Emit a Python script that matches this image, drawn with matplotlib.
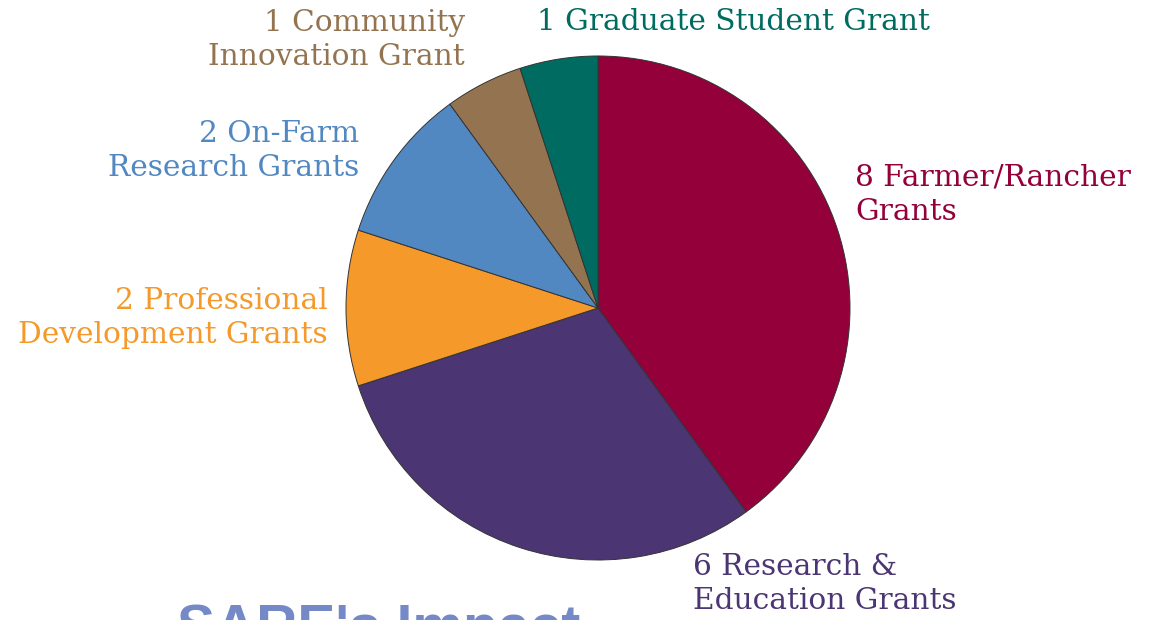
import matplotlib.pyplot as plt

# Grant counts, clockwise from 12 o'clock
labels = ["8 Farmer/Rancher\nGrants", "6 Research &\nEducation Grants",
          "2 Professional\nDevelopment Grants", "2 On-Farm\nResearch Grants",
          "1 Community\nInnovation Grant", "1 Graduate Student Grant"]
counts = [8, 6, 2, 2, 1, 1]
colors = ["#93003a", "#4b3573", "#f4992a", "#5288c1", "#947450", "#006b60"]

# label anchor positions (pixels in the 1159x620 image) and alignment
label_pos = [(855, 195, "left"), (693, 584, "left"), (328, 318, "right"),
             (359, 151, "right"), (465, 40, "right"), (537, 22, "left")]

W, H = 1159, 620
cx, cy, r = 598, 308, 252

fig = plt.figure(figsize=(W / 100, H / 100), dpi=100)
ax = fig.add_axes([(cx - r) / W, (H - cy - r) / H, 2 * r / W, 2 * r / H])
ax.pie(counts, colors=colors, startangle=90, counterclock=False,
       wedgeprops=dict(edgecolor="#333333", linewidth=0.7))
ax.set_xlim(-1, 1)
ax.set_ylim(-1, 1)

for lab, col, (px, py, ha) in zip(labels, colors, label_pos):
    ax.text((px - cx) / r, (cy - py) / r, lab, color=col, ha=ha, va="center",
            multialignment=ha, fontsize=21.3, family="DejaVu Serif",
            linespacing=1.3, clip_on=False)

fig.text(177 / W, 1 - 603 / H, "SARE's Impact", color="#7589c6", fontsize=41,
         fontweight="bold", family="Liberation Sans", ha="left", va="top")

fig.savefig("out.png", dpi=100)
